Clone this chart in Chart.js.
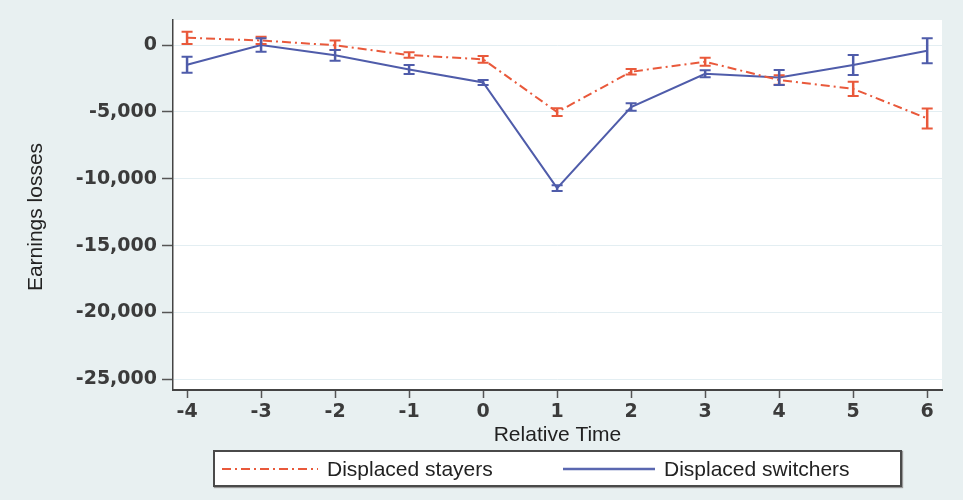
<!DOCTYPE html>
<html>
<head>
<meta charset="utf-8">
<script src="https://cdn.jsdelivr.net/npm/chart.js@4.4.1/dist/chart.umd.min.js"></script>
<style>
  html, body { margin: 0; padding: 0; background: #e8f0f1; }
  #wrap { position: relative; width: 963px; height: 500px; }
  #legend {
    position: absolute; left: 213px; top: 450px; width: 685px; height: 33px;
    background: #fff; border: 2px solid #4a4a4a; box-shadow: 1px 1px 1px #999;
    font-family: "Liberation Sans", Arial, sans-serif; font-size: 21px; color: #222;
  }
  .item { position: absolute; top: 0; height: 33px; display: flex; align-items: center; }
  .item svg { margin-right: 9px; }
</style>
</head>
<body>
<div id="wrap">
  <canvas id="chart"></canvas>
  <div id="legend">
    <div class="item" style="left:7px">
      <svg width="96" height="6"><line x1="0" y1="3" x2="96" y2="3" stroke="#e9593b" stroke-width="2" stroke-dasharray="9 4 2 4"/></svg>
      <span>Displaced stayers</span>
    </div>
    <div class="item" style="left:348px">
      <svg width="92" height="6"><line x1="0" y1="3" x2="92" y2="3" stroke="#5a67b0" stroke-width="2.5"/></svg>
      <span>Displaced switchers</span>
    </div>
  </div>
</div>
<script>
// relative time (years around displacement)
const times = [-4, -3, -2, -1, 0, 1, 2, 3, 4, 5, 6];

// point estimates and half-width of the error bars
const stayersMean   = [540, 340, -20, -750, -1070, -5015, -2000, -1250, -2620, -3280, -5490];
const stayersErr    = [460, 270, 350, 200, 250, 290, 200, 300, 350, 530, 750];
const switchersMean = [-1470, 0, -770, -1830, -2800, -10700, -4640, -2150, -2430, -1500, -430];
const switchersErr  = [600, 500, 400, 340, 190, 220, 280, 270, 560, 750, 935];

const yTicks = [0, -5000, -10000, -15000, -20000, -25000];

const ORANGE = '#e9593b';
const BLUE = '#4f5caa';
const tickFont = { family: 'DejaVu Sans', size: 19, weight: 'bold' };

// white plot area on the pale background
const plotBg = {
    id: 'plotBg',
    beforeDraw(chart) {
        const { ctx, chartArea: a } = chart;
        ctx.save();
        ctx.fillStyle = '#ffffff';
        ctx.fillRect(a.left, a.top, a.right - a.left, a.bottom - a.top);
        ctx.restore();
    }
};

// error bars with caps
const errorBars = {
    id: 'errorBars',
    afterDatasetsDraw(chart) {
        const { ctx, scales: { x, y } } = chart;
        chart.data.datasets.forEach(ds => {
            ctx.save();
            ctx.strokeStyle = ds.borderColor;
            ds.data.forEach((p, i) => {
                const px = x.getPixelForValue(p.x);
                const top = y.getPixelForValue(p.y + ds.err[i]);
                const bot = y.getPixelForValue(p.y - ds.err[i]);
                ctx.lineWidth = 2.5;
                ctx.beginPath();
                ctx.moveTo(px, top); ctx.lineTo(px, bot);
                ctx.stroke();
                ctx.lineWidth = 2;
                ctx.beginPath();
                ctx.moveTo(px - 5.5, top); ctx.lineTo(px + 5.5, top);
                ctx.moveTo(px - 5.5, bot); ctx.lineTo(px + 5.5, bot);
                ctx.stroke();
            });
            ctx.restore();
        });
    }
};

// y axis title
const yTitle = {
    id: 'yTitle',
    afterDraw(chart) {
        const ctx = chart.ctx;
        ctx.save();
        ctx.translate(36, 217);
        ctx.rotate(-Math.PI / 2);
        ctx.font = '21px "Liberation Sans", Arial, sans-serif';
        ctx.fillStyle = '#222';
        ctx.textAlign = 'center';
        ctx.textBaseline = 'middle';
        ctx.fillText('Earnings losses', 0, 0);
        ctx.restore();
    }
};

new Chart(document.getElementById('chart'), {
    type: 'line',
    data: {
        datasets: [
            {
                label: 'Displaced stayers',
                data: times.map((t, i) => ({ x: t, y: stayersMean[i] })),
                err: stayersErr,
                borderColor: ORANGE,
                borderWidth: 2,
                borderDash: [9, 4, 2, 4],
                pointRadius: 0,
                tension: 0
            },
            {
                label: 'Displaced switchers',
                data: times.map((t, i) => ({ x: t, y: switchersMean[i] })),
                err: switchersErr,
                borderColor: BLUE,
                borderWidth: 2,
                pointRadius: 0,
                tension: 0
            }
        ]
    },
    options: {
        responsive: true,
        maintainAspectRatio: false,
        animation: false,
        layout: { padding: { top: 20, right: 21, bottom: 52, left: 0 } },
        plugins: { legend: { display: false }, tooltip: { enabled: false } },
        scales: {
            x: {
                type: 'linear',
                min: -4.19,
                max: 6.2,
                afterBuildTicks: s => { s.ticks = times.map(v => ({ value: v })); },
                afterFit: s => { s.height = 58; },
                grid: { drawOnChartArea: false, tickLength: 8, tickColor: '#555', tickWidth: 1.5 },
                border: { color: '#444', width: 2 },
                ticks: { font: tickFont, color: '#3b3b3b', padding: 3, maxRotation: 0 },
                title: {
                    display: true, text: 'Relative Time', color: '#222',
                    font: { family: 'Liberation Sans', size: 21 }, padding: { top: 0, bottom: 0 }
                }
            },
            y: {
                min: -25800,
                max: 1870,
                afterBuildTicks: s => { s.ticks = yTicks.map(v => ({ value: v })); },
                afterFit: s => { s.width = 173; },
                grid: { color: '#e3eef2', lineWidth: 1, tickLength: 11, tickColor: '#555', tickWidth: 1.5 },
                border: { color: '#444', width: 1.5 },
                ticks: {
                    font: tickFont, color: '#3b3b3b', padding: 5,
                    callback: v => v.toLocaleString('en-US')
                }
            }
        }
    },
    plugins: [plotBg, errorBars, yTitle]
});
</script>
</body>
</html>
